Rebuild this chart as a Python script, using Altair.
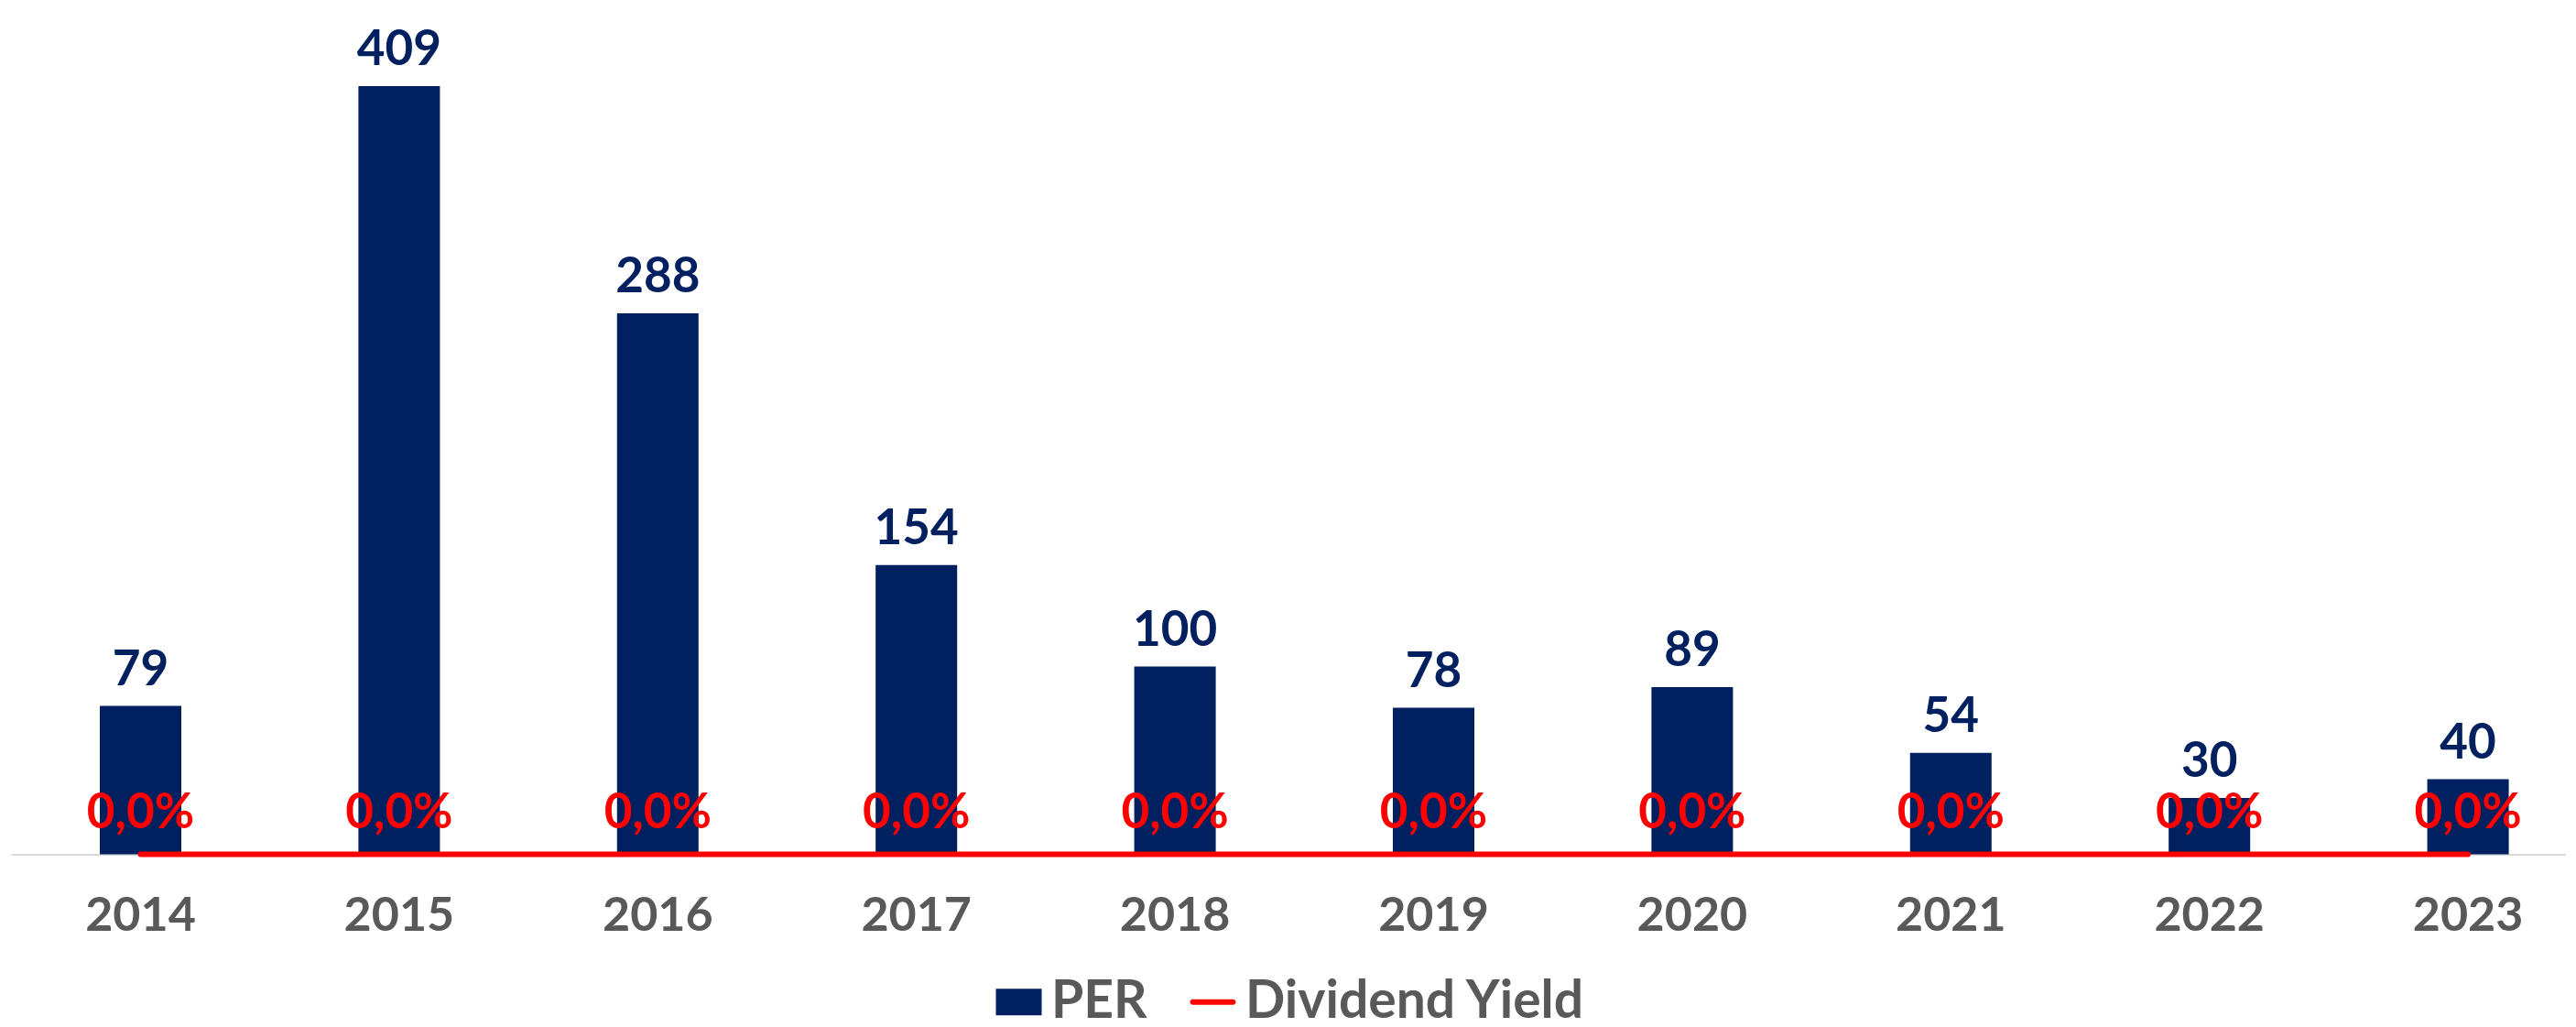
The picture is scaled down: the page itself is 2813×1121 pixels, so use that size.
import altair as alt
import pandas as pd

years = ["2014", "2015", "2016", "2017", "2018", "2019", "2020", "2021", "2022", "2023"]
per = [79, 409, 288, 154, 100, 78, 89, 54, 30, 40]
dividend_yield = [0.0, 0.0, 0.0, 0.0, 0.0, 0.0, 0.0, 0.0, 0.0, 0.0]
series_names = ["PER", "Dividend Yield"]
series_colors = ["#002060", "#FF0000"]

df = pd.DataFrame({"year": years, "per": per, "dy": dividend_yield})
df["dy_label"] = [f"{v:.1f}%".replace(".", ",") for v in dividend_yield]
df["series"] = series_names[0]

FONT = "Lato"
NAVY = series_colors[0]
RED = series_colors[1]
GRAY = "#595959"

x = alt.X(
    "year:N",
    sort=years,
    title=None,
    scale=alt.Scale(paddingInner=0.6848, paddingOuter=0.2822, align=0.6085),
    axis=alt.Axis(
        labelAngle=0,
        ticks=False,
        tickSize=0,
        labelPadding=83,
        labelBaseline="alphabetic",
        labelFont=FONT,
        labelFontSize=52,
        labelFontWeight="bold",
        labelColor=GRAY,
        domainColor="#D9D9D9",
        domainWidth=2,
        grid=False,
    ),
)

y_per = alt.Y("per:Q", scale=alt.Scale(domain=[0, 450], nice=False), axis=None)
y_dy = alt.Y("dy:Q", scale=alt.Scale(domain=[0, 1], nice=False), axis=None)

rect_path = "M-1,-0.58H1V0.58H-1Z"
line_path = "M-0.88,-0.12H0.88A0.12,0.12 0 0 1 0.88,0.12H-0.88A0.12,0.12 0 0 1 -0.88,-0.12Z"

base = alt.Chart(df)

bars = base.mark_bar().encode(
    x=x,
    y=y_per,
    color=alt.Color(
        "series:N",
        scale=alt.Scale(domain=series_names, range=series_colors),
        legend=alt.Legend(
            title=None,
            orient="none",
            legendX=1072,
            legendY=1055,
            direction="horizontal",
            symbolType={"expr": f"datum.value == 'PER' ? '{rect_path}' : '{line_path}'"},
            symbolSize=2500,
            symbolStrokeWidth=0,
            symbolOpacity=1,
            labelFont=FONT,
            labelFontSize=57,
            labelFontWeight="bold",
            labelColor=GRAY,
            labelLimit=0,
            labelOffset=7,
            columnPadding=43,
            padding=0,
        ),
    ),
)

per_labels = base.mark_text(
    font=FONT, fontSize=53, fontWeight="bold", color=NAVY, baseline="alphabetic", dy=-23
).encode(x=x, y=y_per, text="per:Q")

line = base.mark_line(color=RED, strokeWidth=6, strokeCap="round").encode(x=x, y=y_dy)

dy_labels = base.mark_text(
    font=FONT, fontSize=53, fontWeight="bold", color=RED, baseline="alphabetic", dy=-29
).encode(x=x, y=y_dy, text="dy_label:N")

chart = (
    alt.layer(bars, per_labels, line, dy_labels)
    .resolve_scale(y="independent")
    .properties(
        width=2790,
        height=922.5,
        padding={"left": 4, "top": 2, "right": 0, "bottom": 182},
        autosize=alt.AutoSizeParams(type="none"),
        background="white",
    )
    .configure_view(stroke=None)
)

chart.save("out.html", embed_options={"renderer": "svg", "actions": False})
